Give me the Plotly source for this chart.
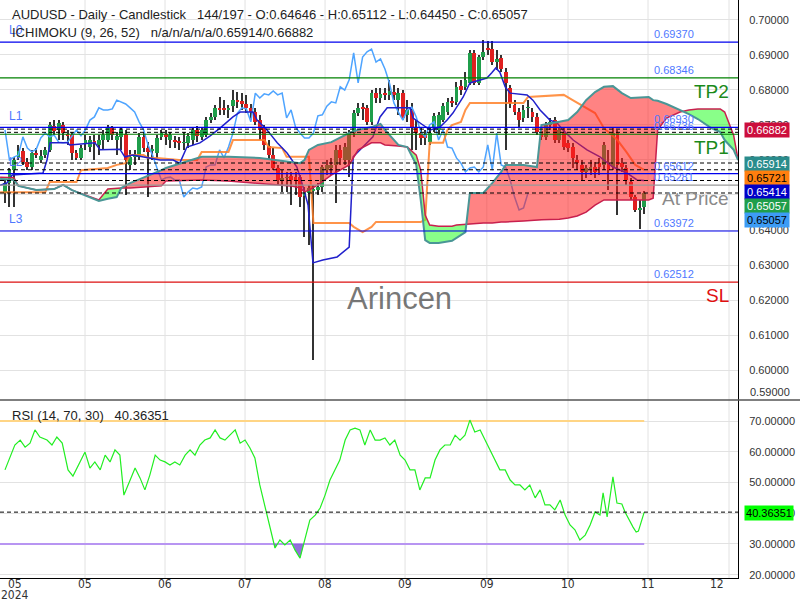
import numpy as np
import plotly.graph_objects as go

# ---------------- data ----------------
OPEN = [0.6506,0.6534,0.6571,0.6608,0.6626,0.6594,0.6580,0.6620,0.6600,0.6614,
        0.6629,0.6697,0.6686,0.6700,0.6674,0.6671,0.6620,0.6606,0.6649,0.6637,
        0.6654,0.6643,0.6657,0.6657,0.6691,0.6657,0.6666,0.6674,0.6586,0.6608,
        0.6608,0.6666,0.6634,0.6626,0.6620,0.6666,0.6674,0.6657,0.6657,0.6654,
        0.6649,0.6649,0.6657,0.6686,0.6666,0.6671,0.6714,0.6723,0.6749,0.6746,
        0.6743,0.6754,0.6771,0.6769,0.6760,0.6749,0.6737,0.6714,0.6694,0.6640,
        0.6614,0.6577,0.6543,0.6549,0.6554,0.6551,0.6551,0.6497,0.6506,0.6511,
        0.6514,0.6523,0.6571,0.6577,0.6586,0.6629,0.6600,0.6600,0.6677,0.6734,
        0.6749,0.6749,0.6709,0.6791,0.6777,0.6791,0.6786,0.6794,0.6771,0.6791,
        0.6729,0.6743,0.6694,0.6677,0.6671,0.6651,0.6694,0.6686,0.6714,0.6737,
        0.6766,0.6766,0.6811,0.6809,0.6820,0.6906,0.6820,0.6894,0.6920,0.6917,
        0.6880,0.6891,0.6851,0.6806,0.6757,0.6737,0.6720,0.6749,0.6737,0.6723,
        0.6683,0.6666,0.6700,0.6714,0.6657,0.6680,0.6649,0.6637,0.6600,0.6586,
        0.6566,0.6577,0.6580,0.6591,0.6586,0.6591,0.6580,0.6677,0.6591,0.6577,
        0.6537,0.6494,0.6457,0.64646]
HIGH = [0.6543,0.6577,0.6608,0.6643,0.6634,0.6606,0.6629,0.6634,0.6629,0.6637,
        0.6709,0.6714,0.6714,0.6709,0.6686,0.6680,0.6629,0.6643,0.6671,0.6669,
        0.6671,0.6671,0.6686,0.6700,0.6697,0.6680,0.6694,0.6686,0.6629,0.6629,
        0.6677,0.6680,0.6651,0.6643,0.6671,0.6686,0.6686,0.6680,0.6669,0.6666,
        0.6680,0.6677,0.6691,0.6697,0.6694,0.6723,0.6734,0.6757,0.6780,0.6771,
        0.6757,0.6800,0.6794,0.6791,0.6786,0.6760,0.6749,0.6729,0.6700,0.6657,
        0.6634,0.6586,0.6571,0.6566,0.6566,0.6566,0.6557,0.6523,0.6529,0.6529,
        0.6534,0.6586,0.6600,0.6606,0.6643,0.6643,0.6649,0.6686,0.6743,0.6763,
        0.6763,0.6757,0.6800,0.6806,0.6806,0.6806,0.6829,0.6814,0.6806,0.6800,
        0.6771,0.6763,0.6714,0.6691,0.6686,0.6691,0.6734,0.6737,0.6763,0.6777,
        0.6780,0.6823,0.6829,0.6851,0.6914,0.6914,0.6900,0.6943,0.6940,0.6940,
        0.6914,0.6900,0.6863,0.6814,0.6771,0.6749,0.6757,0.6771,0.6749,0.6734,
        0.6691,0.6709,0.6720,0.6723,0.6694,0.6691,0.6657,0.6649,0.6614,0.6600,
        0.6586,0.6600,0.6594,0.6606,0.6651,0.6629,0.6691,0.6686,0.6606,0.6586,
        0.6549,0.6500,0.6486,0.65112]
LOW = [0.6477,0.6466,0.6466,0.6600,0.6586,0.6571,0.6571,0.6606,0.6591,0.6606,
       0.6623,0.6671,0.6657,0.6657,0.6643,0.6600,0.6600,0.6600,0.6629,0.6623,
       0.6600,0.6614,0.6629,0.6651,0.6657,0.6614,0.6629,0.6500,0.6571,0.6586,
       0.6600,0.6623,0.6494,0.6600,0.6606,0.6657,0.6643,0.6634,0.6634,0.6629,
       0.6629,0.6634,0.6643,0.6651,0.6657,0.6666,0.6706,0.6714,0.6729,0.6729,
       0.6720,0.6737,0.6749,0.6743,0.6734,0.6714,0.6700,0.6657,0.6629,0.6600,
       0.6571,0.6529,0.6509,0.6509,0.6471,0.6500,0.6466,0.6380,0.6357,0.6028,
       0.6500,0.6509,0.6557,0.6557,0.6477,0.6586,0.6586,0.6551,0.6666,0.6726,
       0.6714,0.6700,0.6700,0.6763,0.6763,0.6771,0.6771,0.6771,0.6729,0.6714,
       0.6709,0.6629,0.6629,0.6643,0.6643,0.6643,0.6680,0.6671,0.6709,0.6729,
       0.6751,0.6757,0.6786,0.6800,0.6814,0.6814,0.6814,0.6886,0.6900,0.6871,
       0.6857,0.6851,0.6629,0.6749,0.6729,0.6691,0.6709,0.6720,0.6709,0.6671,
       0.6657,0.6657,0.6686,0.6649,0.6649,0.6629,0.6623,0.6577,0.6571,0.6543,
       0.6549,0.6557,0.6549,0.6557,0.6571,0.6514,0.6571,0.6443,0.6566,0.6529,
       0.6486,0.6451,0.6403,0.64450]
CLOSE = [0.6534,0.6571,0.6600,0.6626,0.6594,0.6580,0.6620,0.6614,0.6611,0.6629,
         0.6700,0.6683,0.6706,0.6677,0.6671,0.6620,0.6606,0.6634,0.6657,0.6657,
         0.6651,0.6657,0.6671,0.6691,0.6671,0.6669,0.6686,0.6600,0.6608,0.6614,
         0.6666,0.6634,0.6623,0.6631,0.6663,0.6677,0.6666,0.6671,0.6651,0.6649,
         0.6651,0.6669,0.6686,0.6669,0.6686,0.6714,0.6723,0.6749,0.6743,0.6743,
         0.6746,0.6771,0.6766,0.6760,0.6749,0.6737,0.6709,0.6686,0.6643,0.6614,
         0.6577,0.6543,0.6549,0.6551,0.6543,0.6543,0.6494,0.6509,0.6520,0.6517,
         0.6523,0.6580,0.6586,0.6586,0.6629,0.6606,0.6637,0.6677,0.6734,0.6749,
         0.6746,0.6709,0.6791,0.6777,0.6789,0.6786,0.6797,0.6786,0.6791,0.6720,
         0.6743,0.6694,0.6677,0.6663,0.6663,0.6677,0.6726,0.6729,0.6754,0.6766,
         0.6763,0.6809,0.6800,0.6829,0.6906,0.6820,0.6894,0.6909,0.6917,0.6880,
         0.6889,0.6860,0.6820,0.6763,0.6737,0.6714,0.6743,0.6751,0.6723,0.6680,
         0.6666,0.6700,0.6709,0.6657,0.6686,0.6637,0.6634,0.6606,0.6591,0.6566,
         0.6577,0.6580,0.6566,0.6580,0.6643,0.6571,0.6677,0.6586,0.6580,0.6543,
         0.6494,0.6457,0.6463,0.65057]

CHIKOU_SHIFT = 26

TENKAN_X = [-1.1,0.4,1.6,8.5,9.4,10.1,13.9,14.5,20.1,21.3,25.7,26.8,28.6,32.4,34.7,37.6,39.1,40.7,
            43.6,45.9,48.1,51.0,52.6,55.5,56.4,58.6,60.9,63.1,65.3,66.7,67.8,68.9,71.1,74.3,77.0,
            77.9,80.1,82.3,83.9,85.5,90.6,91.3,93.5,95.1,97.3,98.9,100.2,102.5,104.0,106.3,107.8,
            108.9,109.8,110.7,111.9,113.0,116.8,118.1,119.7,121.9,123.5,124.8,127.1,130.2,133.1,
            136.0,139.1,141.4,143.0]
TENKAN_Y = [0.6528,0.6534,0.6557,0.6563,0.6600,0.6649,0.6649,0.6643,0.6649,0.6629,0.6631,0.6609,
            0.6614,0.6606,0.6600,0.6600,0.6591,0.6637,0.6649,0.6669,0.6691,0.6723,0.6737,0.6737,
            0.6714,0.6686,0.6649,0.6620,0.6580,0.6523,0.6471,0.6306,0.6314,0.6323,0.6351,0.6609,
            0.6637,0.6666,0.6723,0.6749,0.6749,0.6720,0.6700,0.6686,0.6694,0.6714,0.6734,0.6780,
            0.6820,0.6829,0.6834,0.6849,0.6863,0.6851,0.6809,0.6791,0.6786,0.6771,0.6743,0.6714,
            0.6706,0.6686,0.6657,0.6629,0.6609,0.6580,0.6563,0.6543,0.65414]

KIJUN_X = [-1.1,9,10,16,17,23,25,27,28,31,32,34,39,43,44,50,51,58,59,62,63,68,69,77,78,80,82,83,
           93,94,95,98,99,100,102,103,104,116,117,125,127,129,132,134,137,139,141,143]
KIJUN_Y = [0.6508,0.6508,0.6537,0.6537,0.6571,0.6577,0.6586,0.6591,0.6614,0.6614,0.6606,0.6606,
           0.6600,0.6600,0.6623,0.6623,0.6657,0.6657,0.6637,0.6634,0.6609,0.6609,0.6420,0.6420,
           0.6409,0.6394,0.6409,0.6423,0.6423,0.6429,0.6649,0.6649,0.6686,0.6700,0.6709,0.6743,
           0.6763,0.6763,0.6780,0.6786,0.6771,0.6757,0.6734,0.6691,0.6657,0.6623,0.6586,0.65721]

CLOUD_X = [-1.1,2,3,7,11,13,15,19,21,23,25,26,28,35,36,44,50,57,64,66,67,68,70,73,77,79,82,84,85,88,
           90,92,93,94,95,97,100,101,103,104,107,109,111,112,116,119,120,124,126,128,130,132,134,136,
           138,140,144,145,146,148,151,153,155,158,160,161,163,164]
SPAN_TEAL = [0.6546,0.6543,0.6526,0.6514,0.6517,0.6529,0.6514,0.6494,0.6483,0.6489,0.6494,0.6520,
             0.6534,0.6571,0.6577,0.6609,0.6609,0.6606,0.6594,0.6591,0.6600,0.6629,0.6643,0.6651,
             0.6677,0.6686,0.6694,0.6703,0.6686,0.6643,0.6637,0.6586,0.6486,0.6371,0.6363,0.6363,
             0.6369,0.6377,0.6394,0.6506,0.6506,0.6534,0.6566,0.6586,0.6586,0.6580,0.6700,0.6709,
             0.6714,0.6737,0.6771,0.6794,0.6809,0.6811,0.6791,0.6777,0.6780,0.6771,0.6769,0.6760,
             0.6743,0.6731,0.6717,0.6691,0.6680,0.6657,0.6629,0.6600]
SPAN_CRIMSON = [0.6551,0.6549,0.6526,0.6514,0.6517,0.6529,0.6514,0.6494,0.6486,0.6517,0.6520,0.6520,
                0.6520,0.6526,0.6540,0.6543,0.6540,0.6534,0.6526,0.6520,0.6509,0.6514,0.6529,0.6557,
                0.6586,0.6629,0.6649,0.6649,0.6643,0.6640,0.6637,0.6614,0.6571,0.6443,0.6414,0.6411,
                0.6411,0.6414,0.6417,0.6417,0.6420,0.6420,0.6423,0.6423,0.6426,0.6429,0.6429,0.6431,
                0.6434,0.6440,0.6451,0.6471,0.6486,0.6486,0.6486,0.6486,0.6486,0.6491,0.6686,0.6720,
                0.6737,0.6743,0.6746,0.6746,0.6746,0.6737,0.6671,0.6600]

RSI_X = [0,1.1,2.2,3.4,4.5,5.6,6.7,7.8,9.4,10.5,11.6,12.8,14.1,15.2,16.3,17.9,19.0,20.1,21.3,22.4,
         23.5,24.6,25.7,26.6,28.0,29.1,30.2,31.3,32.4,33.6,34.7,35.8,36.9,38.0,39.1,40.3,41.4,42.5,43.6,
         44.7,45.9,47.0,48.1,49.2,50.3,51.5,52.6,53.7,54.8,55.9,57.0,58.2,59.3,60.4,61.5,62.6,63.8,64.9,
         66.0,67.1,68.2,69.4,70.5,71.6,72.7,73.8,74.9,76.1,77.2,78.3,79.4,80.5,81.7,82.8,83.9,85.0,86.1,
         87.2,88.4,89.5,90.6,91.7,92.8,94.0,95.1,96.2,97.3,98.4,99.6,100.7,101.8,102.9,104.0,105.1,106.3,
         107.4,108.5,109.6,110.7,111.9,113.0,114.1,115.2,116.3,117.4,118.6,119.7,120.8,121.9,123.0,124.2,
         125.3,126.4,127.5,128.6,129.8,130.9,132.0,133.1,133.8,134.7,136.0,136.9,138.0,138.7,140.5,141.2,
         141.7,143.0]
RSI_Y = [54.1,58.0,62.2,63.8,61.5,62.8,67.1,64.8,63.8,62.2,64.8,62.8,54.1,52.1,55.4,59.9,54.7,56.7,54.1,
         58.9,56.7,60.6,58.9,45.9,50.8,54.7,51.5,47.6,52.4,58.9,57.3,56.7,55.7,56.7,55.7,58.9,60.6,58.9,
         62.2,63.8,64.5,67.1,64.5,63.8,65.4,67.1,62.8,63.8,61.2,58.0,49.2,41.7,34.6,28.7,31.3,29.7,31.3,
         28.0,25.4,31.3,37.8,39.4,41.7,45.9,50.8,54.1,57.3,63.8,67.1,67.7,67.1,62.2,67.1,63.8,63.8,64.5,
         62.2,63.8,58.9,57.3,54.1,54.1,47.6,51.5,51.5,57.3,60.6,62.2,62.2,65.4,63.8,65.4,70.3,66.4,67.1,
         63.8,60.6,57.3,54.1,54.1,50.8,49.2,49.2,47.6,49.2,45.0,47.6,42.7,42.7,41.1,44.3,39.4,36.2,34.6,
         31.3,32.9,36.2,40.4,39.4,46.6,38.8,51.8,43.3,43.0,40.4,35.5,33.9,34.2,40.36351]
RSI_LAST = 40.36351
RSI_UPPER, RSI_LOWER = 70, 30

X_TICK_POS = [2.24, 17.9, 35.8, 53.7, 71.6, 89.5, 107.8, 125.95, 143.85, 159.3]
X_TICK_TEXT = ["05", "05", "06", "07", "08", "09", "09", "10", "11", "12"]
X_YEAR_TEXT = "2024"
X_GRID_POS = [17.9, 35.8, 53.7, 71.6, 89.5, 107.8, 125.95, 143.85, 161.97]

LEVEL_VALUES = [0.69370, 0.68346, 0.66930, 0.66736, 0.65612, 0.65281, 0.63972, 0.62512]
LEVEL_COLORS = ["#0000ee", "#008000", "#0000ee", "#008000", "#0000ee", "#999999", "#0000ee", "#dd1111"]
LEFT_TAGS = ["L0", "L1", "L2", "L3"]
SIDE_TAGS = [("TP2", 0.68346, "#1a8a1a"), ("TP1", 0.66736, "#1a8a1a"),
             ("At Price", 0.65281, "#8a8a8a"), ("SL", 0.62512, "#e01010")]
DASHED_VALUES = [0.66882, 0.66790, 0.65914, 0.65721, 0.65414, 0.65057]

AXIS_BOXES = [("0.66882", "#cc0e3c", "white"), ("0.65914", "#2a8c8c", "white"),
              ("0.65721", "#ff7f0e", "black"), ("0.65414", "#0000c8", "white"),
              ("0.65057", "#1f9e4b", "white"), ("0.65057", "#3d9cf5", "black")]

HEADER1 = "AUDUSD - Daily - Candlestick\u00a0\u00a0\u00a0144/197 - O:0.64646 - H:0.65112 - L:0.64450 - C:0.65057"
HEADER2 = "ICHIMOKU (9, 26, 52)\u00a0\u00a0\u00a0n/a/n/a/n/a/0.65914/0.66882"
HEADER3 = "RSI (14, 70, 30)\u00a0\u00a0\u00a0" + "%.5f" % RSI_LAST

# ---------------- geometry helpers (pixels -> paper) ----------------
PW, PH = 738.0, 578.0
def px(x):
    return x / PW
def py(y):
    return (PH - y) / PH

FONT = "Liberation Sans, Arial, sans-serif"
NARROW = "Liberation Sans Narrow, DejaVu Sans Condensed, Arial Narrow, Liberation Sans, sans-serif"
idx = list(range(len(CLOSE)))

fig = go.Figure()

green, red = "#1f9e4b", "#e02020"
fig.add_trace(go.Bar(x=idx, y=[h - l for h, l in zip(HIGH, LOW)], base=LOW, width=0.24,
                     marker=dict(color="#333333", line=dict(width=0)), yaxis="y", hoverinfo="skip"))
body_h = [max(abs(c - o), 0.00018) for o, c in zip(OPEN, CLOSE)]
body_b = [min(o, c) for o, c in zip(OPEN, CLOSE)]
body_c = [green if c >= o else red for o, c in zip(OPEN, CLOSE)]
fig.add_trace(go.Bar(x=idx, y=body_h, base=body_b, width=0.85,
                     marker=dict(color=body_c, line=dict(width=0)), yaxis="y", hoverinfo="skip"))

fig.add_trace(go.Scatter(x=list(range(len(CLOSE) - CHIKOU_SHIFT)), y=CLOSE[CHIKOU_SHIFT:], mode="lines",
                         line=dict(color="#4ea4ff", width=1.5), yaxis="y", hoverinfo="skip"))
fig.add_trace(go.Scatter(x=KIJUN_X, y=KIJUN_Y, mode="lines",
                         line=dict(color="rgba(255,128,40,0.85)", width=2), yaxis="y", hoverinfo="skip"))
fig.add_trace(go.Scatter(x=TENKAN_X, y=TENKAN_Y, mode="lines",
                         line=dict(color="#2020cc", width=1.5), yaxis="y", hoverinfo="skip"))


def split_runs(xs, a, b):
    runs = []
    cx, ca, cb = [xs[0]], [a[0]], [b[0]]
    s = np.sign(a[0] - b[0])
    for k in range(len(xs) - 1):
        d0 = a[k] - b[k]
        d1 = a[k + 1] - b[k + 1]
        if d0 * d1 < 0:
            t = d0 / (d0 - d1)
            xc = xs[k] + t * (xs[k + 1] - xs[k])
            yc = a[k] + t * (a[k + 1] - a[k])
            cx.append(xc); ca.append(yc); cb.append(yc)
            runs.append((s, cx, ca, cb))
            cx, ca, cb = [xc], [yc], [yc]
            s = np.sign(d1)
        elif d0 == 0 and d1 != 0 and np.sign(d1) != s:
            runs.append((s, cx, ca, cb))
            cx, ca, cb = [xs[k]], [a[k]], [b[k]]
            s = np.sign(d1)
        cx.append(xs[k + 1]); ca.append(a[k + 1]); cb.append(b[k + 1])
    runs.append((s, cx, ca, cb))
    return runs


for s, cx, ca, cb in split_runs(CLOUD_X, SPAN_TEAL, SPAN_CRIMSON):
    if s == 0:
        continue
    col = "rgba(255,30,30,0.55)" if s > 0 else "rgba(40,255,40,0.55)"
    fig.add_trace(go.Scatter(x=cx + cx[::-1], y=ca + cb[::-1], mode="lines", fill="toself",
                             fillcolor=col, line=dict(width=0), yaxis="y", hoverinfo="skip"))
fig.add_trace(go.Scatter(x=CLOUD_X, y=SPAN_CRIMSON, mode="lines",
                         line=dict(color="#c8204e", width=1.5), yaxis="y", hoverinfo="skip"))
fig.add_trace(go.Scatter(x=CLOUD_X, y=SPAN_TEAL, mode="lines",
                         line=dict(color="#4a9696", width=2), yaxis="y", hoverinfo="skip"))

# RSI panel
xr0, xr1 = -1.12, RSI_X[-1]
fig.add_trace(go.Scatter(x=[xr0, xr1], y=[RSI_UPPER, RSI_UPPER], mode="lines",
                         line=dict(color="#ffd585", width=2), yaxis="y2", hoverinfo="skip"))
fig.add_trace(go.Scatter(x=[xr0, xr1], y=[RSI_LOWER, RSI_LOWER], mode="lines",
                         line=dict(color="#b895f2", width=2), yaxis="y2", hoverinfo="skip"))
lower_line = [RSI_LOWER] * len(RSI_X)
for s, cx, ca, cb in split_runs(RSI_X, RSI_Y, lower_line):
    if s < 0:
        fig.add_trace(go.Scatter(x=cx + cx[::-1], y=ca + cb[::-1], mode="lines", fill="toself",
                                 fillcolor="rgba(135,95,215,0.9)", line=dict(width=0),
                                 yaxis="y2", hoverinfo="skip"))
fig.add_trace(go.Scatter(x=RSI_X, y=RSI_Y, mode="lines",
                         line=dict(color="#22ee22", width=1.2), yaxis="y2", hoverinfo="skip"))

# ---------------- shapes ----------------
shapes = []
for g in X_GRID_POS:
    shapes.append(dict(type="line", xref="x", yref="paper", x0=g, x1=g, y0=0, y1=1,
                       line=dict(color="#e2e2e2", width=1), layer="below"))
for v, c in zip(LEVEL_VALUES, LEVEL_COLORS):
    shapes.append(dict(type="line", xref="paper", yref="y", x0=0, x1=1, y0=v, y1=v,
                       line=dict(color=c, width=1.2)))
for v in DASHED_VALUES:
    shapes.append(dict(type="line", xref="paper", yref="y", x0=0, x1=1, y0=v, y1=v,
                       line=dict(color="black", width=1, dash="4px,3px")))
shapes.append(dict(type="line", xref="paper", yref="y2", x0=0, x1=1, y0=RSI_LAST, y1=RSI_LAST,
                   line=dict(color="black", width=1, dash="4px,3px")))
shapes.append(dict(type="line", xref="paper", yref="paper", x0=0, x1=800 / PW, y0=py(400), y1=py(400),
                   line=dict(color="#555555", width=1.5)))

# ---------------- annotations ----------------
ann = []
def text(x, y, s, size=13, color="#222", xanchor="left", yanchor="middle", family=FONT, **kw):
    d = dict(xref="paper", yref="paper", x=px(x), y=py(y), text=s, showarrow=False,
             xanchor=xanchor, yanchor=yanchor, font=dict(family=family, size=size, color=color))
    d.update(kw)
    ann.append(d)

tag_col = "#4f78ff"
tag_y = [30, 116, 162, 219]
for name, yy in zip(LEFT_TAGS, tag_y):
    text(7, yy, name, size=12, color=tag_col)
text(10, 14, HEADER1, size=13)
text(10, 33, HEADER2, size=13)
text(10, 415, HEADER3, size=13)

for v in LEVEL_VALUES:
    ann.append(dict(xref="paper", yref="y", x=px(652), y=v, text="%.5f" % v, showarrow=False,
                    xanchor="left", yanchor="bottom", yshift=0,
                    font=dict(family=FONT, size=11, color=tag_col)))
for s, v, c in SIDE_TAGS:
    ann.append(dict(xref="paper", yref="y", x=px(731), y=v, text=s, showarrow=False,
                    xanchor="right", yanchor="top", yshift=-1,
                    font=dict(family=FONT, size=19, color=c)))

text(400, 298, "Arincen", size=31, color="rgba(95,95,95,0.85)", xanchor="center")

box_y = [129.5, 164, 178, 192, 206, 220]
for (s, bg, fg), yy in zip(AXIS_BOXES, box_y):
    text(744, yy, s, size=11, color=fg, bgcolor=bg, borderpad=1, width=42, height=12, align="center")
text(744, 512.5, "%.5f" % RSI_LAST, size=11, color="black", bgcolor="#00ff00", borderpad=1,
     width=46, height=12, align="center")
text(748, 392, "0.59000", size=11, color="#333")

# x tick labels (drawn as text so they sit as close to the axis as in the reference)
for tv, tt in zip(X_TICK_POS, X_TICK_TEXT):
    ann.append(dict(xref="x", yref="paper", x=tv, y=py(584), text=tt, showarrow=False,
                    xanchor="center", yanchor="middle",
                    font=dict(family=NARROW, size=12, color="#333")))
ann.append(dict(xref="x", yref="paper", x=X_TICK_POS[0], y=py(594.5), text=X_YEAR_TEXT,
                showarrow=False, xanchor="center", yanchor="middle",
                font=dict(family=NARROW, size=12, color="#333")))

tickfont = dict(family=FONT, size=11, color="#333")
fig.update_layout(
    width=800, height=600,
    margin=dict(l=0, r=62, t=0, b=22, autoexpand=False),
    paper_bgcolor="white", plot_bgcolor="white",
    showlegend=False, barmode="overlay", bargap=0,
    shapes=shapes, annotations=ann,
    xaxis=dict(domain=[0, 1], range=[-1.1186, 163.98], anchor="y2", showgrid=False, zeroline=False,
               automargin=False, showline=True, linecolor="black", linewidth=1,
               showticklabels=False, ticks=""),
    yaxis=dict(domain=[py(400), 1], range=[0.59143, 0.70571], side="right", anchor="x",
               automargin=False, showgrid=True, gridcolor="#e2e2e2", zeroline=False, showline=True,
               linecolor="black", tickformat=".5f", tick0=0.59, dtick=0.01, ticks="outside", ticklen=8,
               tickcolor="rgba(0,0,0,0)", tickfont=tickfont),
    yaxis2=dict(domain=[0, py(400)], range=[18.94, 76.83], side="right", anchor="x",
                automargin=False, showgrid=True, gridcolor="#e2e2e2", zeroline=False, showline=True,
                linecolor="black", tickformat=".5f", tick0=20, dtick=10, ticks="outside", ticklen=8,
                tickcolor="rgba(0,0,0,0)", tickfont=tickfont),
)

fig.write_html("out.html")
